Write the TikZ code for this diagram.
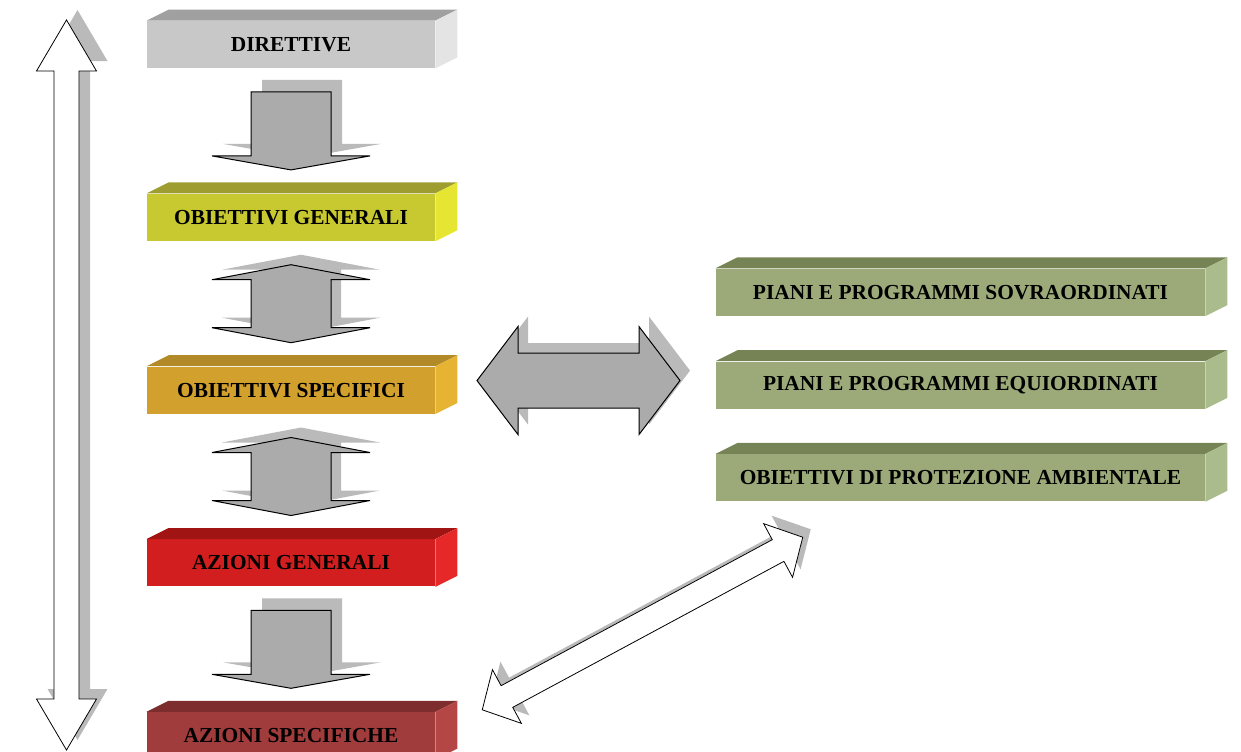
\documentclass[tikz,border=0pt]{standalone}
\usepackage{fontspec}
\setmainfont{Liberation Serif}
\usetikzlibrary{positioning,calc}

\definecolor{dirF}{RGB}{200,200,200}
\definecolor{dirT}{RGB}{160,160,160}
\definecolor{dirS}{RGB}{228,228,228}
\definecolor{obgF}{RGB}{200,200,48}
\definecolor{obgT}{RGB}{158,158,48}
\definecolor{obgS}{RGB}{230,230,50}
\definecolor{obsF}{RGB}{210,160,45}
\definecolor{obsT}{RGB}{178,138,40}
\definecolor{obsS}{RGB}{230,180,50}
\definecolor{azgF}{RGB}{210,30,30}
\definecolor{azgT}{RGB}{160,20,20}
\definecolor{azgS}{RGB}{230,40,40}
\definecolor{azsF}{RGB}{160,60,60}
\definecolor{azsT}{RGB}{125,45,45}
\definecolor{azsS}{RGB}{180,70,70}
\definecolor{grF}{RGB}{155,170,120}
\definecolor{grT}{RGB}{118,132,85}
\definecolor{grS}{RGB}{170,188,140}

\begin{document}
\begin{tikzpicture}[x=0.5pt,y=-0.5pt,
    slab/.style={minimum width=144pt,minimum height=23.5pt,inner sep=0pt,
      font=\bfseries\fontsize{10.7}{12}\selectfont},
    greenslab/.style={slab,fill=grF,minimum width=244.5pt},
    arrshadow/.style={fill=black!27},
    arrgray/.style={fill=black!33,draw=black,line width=0.5pt},
    arrwhite/.style={fill=white,draw=black,line width=0.4pt},
    pics/blkdbl/.style args={#1/#2/#3/#4}{code={
      \path[pic actions] (-#1,0) -- (-#1+#2,-#3) -- (-#1+#2,-#4) -- (#1-#2,-#4)
        -- (#1-#2,-#3) -- (#1,0) -- (#1-#2,#3) -- (#1-#2,#4) -- (-#1+#2,#4)
        -- (-#1+#2,#3) -- cycle;}},
    pics/blksgl/.style args={#1/#2/#3/#4}{code={
      \path[pic actions] (-#1,-#4) -- (#1-#2,-#4) -- (#1-#2,-#3) -- (#1,0)
        -- (#1-#2,#3) -- (#1-#2,#4) -- (-#1,#4) -- cycle;}}]
  \useasboundingbox (0,0) rectangle (1241,751);

  % left column
  \node[slab,fill=dirF] (dir) at (291,44.5) {DIRETTIVE};
  \node[slab,fill=obgF,below=62.5pt of dir] (obg) {OBIETTIVI GENERALI};
  \node[slab,fill=obsF,below=62.5pt of obg] (obs) {OBIETTIVI SPECIFICI};
  \node[slab,fill=azgF,below=62.5pt of obs] (azg) {AZIONI GENERALI};
  \node[slab,fill=azsF,below=62.5pt of azg] (azs) {AZIONI SPECIFICHE};

  % right column
  \node[greenslab] (ppe) at (960.5,385) {PIANI E PROGRAMMI EQUIORDINATI};
  \node[greenslab,above=22.5pt of ppe] (pps) {PIANI E PROGRAMMI SOVRAORDINATI};
  \node[greenslab,below=22.5pt of ppe] (opa) {OBIETTIVI DI PROTEZIONE AMBIENTALE};

  % top and side faces
  \foreach \n/\t/\s in {dir/dirT/dirS,obg/obgT/obgS,obs/obsT/obsS,azg/azgT/azgS,
      azs/azsT/azsS,pps/grT/grS,ppe/grT/grS,opa/grT/grS} {
    \fill[\t] (\n.north west) -- ++(22,-11) -- ($(\n.north east)+(22,-11)$) -- (\n.north east) -- cycle;
    \fill[\s] (\n.north east) -- ++(22,-11) -- ($(\n.south east)+(22,-11)$) -- (\n.south east) -- cycle;
  }

  % block arrows between the boxes
  \coordinate (k1) at ($(dir.south)!.5!(obg.north)$);
  \coordinate (k2) at ($(obg.south)!.5!(obs.north)$);
  \coordinate (k3) at ($(obs.south)!.5!(azg.north)$);
  \coordinate (k4) at ($(azg.south)!.5!(azs.north)$);
  \pic[arrshadow,shift={(11,-12)},rotate=-90] at (k1) {blksgl=39/14/79/40};
  \pic[arrgray,rotate=-90] at (k1) {blksgl=39/14/79/40};
  \pic[arrshadow,shift={(10,-10)},rotate=90] at (k2) {blkdbl=39/15/79/40};
  \pic[arrgray,rotate=90] at (k2) {blkdbl=39/15/79/40};
  \pic[arrshadow,shift={(10,-10)},rotate=90] at (k3) {blkdbl=39/15/79/40};
  \pic[arrgray,rotate=90] at (k3) {blkdbl=39/15/79/40};
  \pic[arrshadow,shift={(11,-12)},rotate=-90] at (k4) {blksgl=39/14/79/40};
  \pic[arrgray,rotate=-90] at (k4) {blksgl=39/14/79/40};

  % specifici <-> piani
  \coordinate (hz) at ($(obs.east)!.5!(ppe.west)+(3,-7)$);
  \pic[arrshadow,shift={(10,-10)}] at (hz) {blkdbl=101.5/41/54/27.5};
  \pic[arrgray] at (hz) {blkdbl=101.5/41/54/27.5};

  % long arrow on the left
  \coordinate (lft) at (66.5,385);
  \pic[arrshadow,shift={(11,-10)},rotate=90] at (lft) {blkdbl=365/51/30/12.5};
  \pic[arrwhite,rotate=90] at (lft) {blkdbl=365/51/30/12.5};

  % azioni specifiche <-> protezione ambientale
  \coordinate (dg) at (642.5,623.5);
  \pic[arrshadow,shift={(8,-8)},rotate=28.3] at (dg) {blkdbl=182/28/30.5/12.3};
  \pic[arrwhite,rotate=28.3] at (dg) {blkdbl=182/28/30.5/12.3};
\end{tikzpicture}
\end{document}
